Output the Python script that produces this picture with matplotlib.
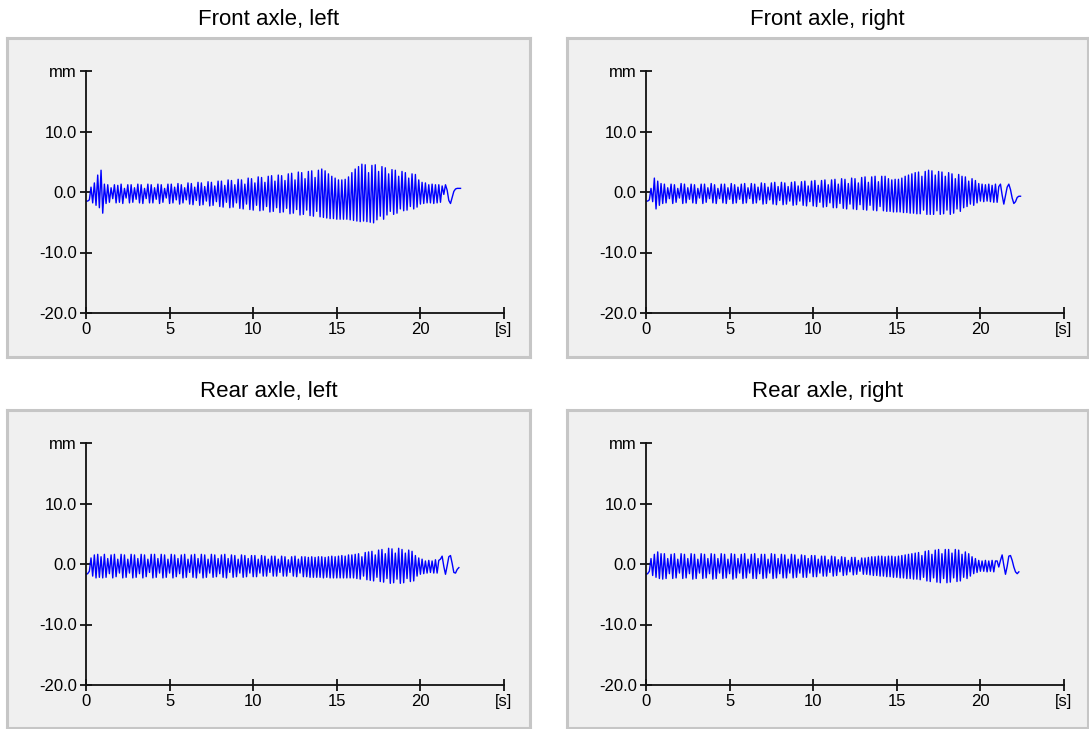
import numpy as np
import matplotlib
matplotlib.use("Agg")
import matplotlib.pyplot as plt

plt.rcParams["font.family"] = ["Liberation Sans", "DejaVu Sans"]

dt = 0.1
fl_mm = [
    -1.5, -1.5, -1.3, 0.8, -1.8, 1.5, -2.2, 2.8, -2.6, 3.6,
    -3.5, 1.3, -1.9, 1.2, -1.7, 0.7, -1.1, 1.2, -1.8, 1.1,
    -1.7, 1.3, -1.9, 0.6, -1.0, 1.2, -1.8, 1.2, -1.7, 0.7,
    -1.2, 1.3, -1.8, 1.2, -1.9, 0.6, -1.1, 1.3, -1.8, 1.2,
    -1.8, 0.7, -1.2, 1.3, -1.9, 1.2, -1.7, 0.6, -1.0, 1.3,
    -1.9, 1.3, -1.8, 0.8, -1.3, 1.4, -2.0, 1.2, -1.8, 0.7,
    -1.3, 1.5, -2.0, 1.4, -2.1, 0.8, -1.4, 1.6, -2.2, 1.5,
    -2.1, 0.9, -1.5, 1.7, -2.3, 1.6, -2.2, 1.0, -1.6, 1.8,
    -2.4, 1.8, -2.5, 1.1, -1.7, 2.0, -2.6, 1.9, -2.5, 1.2,
    -1.8, 2.1, -2.7, 2.0, -2.8, 1.3, -2.0, 2.3, -2.9, 2.2,
    -3.0, 1.5, -2.2, 2.5, -3.1, 2.4, -3.0, 1.6, -2.4, 2.6,
    -3.3, 2.7, -3.2, 1.8, -2.6, 2.8, -3.4, 2.7, -3.3, 1.9,
    -2.7, 3.0, -3.6, 3.1, -3.5, 2.0, -2.9, 3.3, -3.8, 3.2,
    -3.7, 2.2, -3.0, 3.4, -3.9, 3.5, -4.0, 2.4, -3.2, 3.6,
    -4.1, 3.8, -4.2, 3.5, -4.3, 3.0, -4.4, 2.6, -4.4, 2.3,
    -4.5, 2.0, -4.5, 2.0, -4.5, 2.1, -4.5, 2.5, -4.6, 3.2,
    -4.7, 3.8, -4.8, 4.2, -4.9, 4.6, -4.8, 4.5, -4.9, 3.2,
    -5.0, 4.4, -5.1, 4.5, -4.6, 3.4, -4.0, 4.2, -4.5, 4.0,
    -3.8, 3.0, -3.2, 3.7, -3.7, 3.6, -3.5, 2.6, -2.8, 3.4,
    -3.1, 3.2, -3.0, 2.3, -2.4, 3.0, -2.8, 2.9, -2.5, 2.0,
    -2.0, 1.6, -1.9, 1.5, -1.8, 1.2, -1.8, 1.3, -1.9, 1.2,
    -1.8, 1.2, -1.7, 1.0, -0.4, 1.2, 0.3, -1.4, -1.9, -0.9,
    0.1, 0.5, 0.6, 0.6, 0.6,
]
fr_mm = [
    -1.5, -1.5, -1.3, 0.6, -1.6, 2.3, -2.8, 1.8, -2.2, 1.4,
    -1.9, 1.3, -1.8, 0.7, -1.1, 1.3, -1.9, 1.2, -1.7, 0.6,
    -1.0, 1.4, -1.9, 1.3, -1.8, 0.7, -1.2, 1.3, -1.8, 1.2,
    -1.9, 0.6, -1.0, 1.3, -1.9, 1.3, -1.7, 0.7, -1.1, 1.4,
    -1.8, 1.2, -1.9, 0.6, -1.1, 1.3, -1.8, 1.3, -1.9, 0.7,
    -1.2, 1.4, -1.9, 1.2, -1.8, 0.8, -1.2, 1.3, -1.9, 1.4,
    -1.8, 0.7, -1.1, 1.4, -1.9, 1.3, -1.8, 0.8, -1.3, 1.5,
    -2.0, 1.4, -1.9, 0.8, -1.3, 1.5, -2.0, 1.6, -2.1, 0.9,
    -1.4, 1.6, -2.1, 1.5, -2.0, 0.9, -1.5, 1.6, -2.2, 1.7,
    -2.1, 1.0, -1.5, 1.7, -2.2, 1.8, -2.3, 1.0, -1.6, 1.8,
    -2.3, 1.9, -2.4, 1.1, -1.7, 1.9, -2.5, 2.0, -2.4, 1.2,
    -1.8, 2.0, -2.6, 2.1, -2.6, 1.3, -1.9, 2.2, -2.7, 2.1,
    -2.8, 1.4, -2.0, 2.3, -2.8, 2.2, -2.9, 1.5, -2.1, 2.4,
    -2.9, 2.5, -3.0, 1.6, -2.2, 2.5, -3.0, 2.6, -3.1, 1.7,
    -2.4, 2.6, -3.1, 2.6, -3.2, 2.2, -3.2, 2.0, -3.3, 2.1,
    -3.3, 2.1, -3.3, 2.3, -3.4, 2.6, -3.4, 2.8, -3.5, 3.0,
    -3.5, 3.2, -3.6, 3.3, -3.6, 2.6, -3.0, 3.4, -3.7, 3.6,
    -3.7, 3.5, -3.7, 2.8, -3.1, 3.4, -3.7, 3.3, -3.6, 2.6,
    -3.0, 3.2, -3.7, 3.0, -3.5, 2.2, -2.8, 2.9, -3.2, 2.6,
    -2.6, 2.5, -2.4, 1.8, -2.0, 2.2, -2.2, 1.9, -1.8, 1.4,
    -1.5, 1.3, -1.6, 1.2, -1.5, 1.3, -1.6, 1.1, -1.7, 1.3,
    -1.7, 0.9, 1.3, -0.5, -2.0, -0.6, 0.8, 1.3, 0.4, -1.0,
    -1.9, -1.6, -0.9, -0.7, -0.7,
]
rl_mm = [
    -1.7, -1.6, -1.2, 1.0, -2.0, 1.5, -2.3, 1.6, -2.2, 1.2,
    -2.3, 1.6, -2.2, 0.9, -1.6, 1.5, -2.3, 1.6, -2.1, 0.8,
    -1.5, 1.6, -2.3, 1.5, -2.2, 0.8, -1.5, 1.6, -2.3, 1.5,
    -2.2, 0.9, -1.6, 1.6, -2.3, 1.5, -2.1, 0.8, -1.4, 1.6,
    -2.3, 1.6, -2.2, 0.9, -1.5, 1.6, -2.3, 1.5, -2.2, 0.8,
    -1.5, 1.6, -2.3, 1.5, -2.1, 0.9, -1.6, 1.5, -2.3, 1.6,
    -2.2, 0.8, -1.4, 1.5, -2.2, 1.6, -2.3, 0.9, -1.5, 1.6,
    -2.3, 1.5, -2.2, 0.8, -1.5, 1.6, -2.2, 1.5, -2.1, 0.9,
    -1.6, 1.5, -2.2, 1.6, -2.3, 0.9, -1.4, 1.5, -2.2, 1.4,
    -2.1, 0.8, -1.5, 1.5, -2.2, 1.4, -2.1, 0.9, -1.5, 1.4,
    -2.1, 1.4, -2.1, 0.8, -1.5, 1.4, -2.0, 1.3, -2.0, 0.8,
    -1.4, 1.3, -2.0, 1.3, -2.0, 0.8, -1.4, 1.3, -2.0, 1.2,
    -2.0, 0.7, -1.4, 1.2, -2.0, 1.3, -2.1, 0.8, -1.5, 1.2,
    -2.1, 1.2, -2.1, 1.1, -2.2, 1.2, -2.2, 1.1, -2.2, 1.2,
    -2.2, 1.2, -2.3, 1.1, -2.2, 1.2, -2.3, 1.3, -2.3, 1.2,
    -2.3, 1.3, -2.3, 1.4, -2.3, 1.3, -2.3, 1.5, -2.3, 1.5,
    -2.3, 1.6, -2.4, 1.7, -2.5, 1.2, -2.0, 1.9, -2.6, 2.0,
    -2.7, 2.1, -2.8, 1.5, -2.2, 2.3, -2.9, 2.4, -3.0, 1.7,
    -2.4, 2.6, -3.2, 2.5, -3.1, 1.8, -2.5, 2.6, -3.2, 2.4,
    -3.1, 1.8, -2.4, 2.3, -2.9, 2.1, -2.8, 1.4, -2.0, 1.0,
    -1.7, 0.8, -1.6, 0.5, -1.5, 0.6, -1.4, 0.5, -1.5, 0.7,
    -1.5, 0.6, 0.8, 1.3, -0.4, -1.7, -0.3, 1.2, 1.4, 0.1,
    -1.4, -1.5, -0.9, -0.6,
]
rr_mm = [
    -1.7, -1.6, -1.2, 0.9, -1.9, 1.6, -2.2, 2.0, -2.4, 1.7,
    -2.5, 1.7, -2.4, 0.9, -1.6, 1.6, -2.4, 1.7, -2.3, 0.8,
    -1.5, 1.7, -2.4, 1.6, -2.3, 0.9, -1.6, 1.7, -2.5, 1.6,
    -2.4, 0.8, -1.5, 1.7, -2.4, 1.6, -2.3, 0.9, -1.6, 1.7,
    -2.5, 1.6, -2.4, 0.9, -1.5, 1.7, -2.4, 1.6, -2.3, 0.8,
    -1.6, 1.7, -2.5, 1.6, -2.3, 0.9, -1.5, 1.6, -2.4, 1.7,
    -2.3, 0.8, -1.5, 1.6, -2.4, 1.7, -2.4, 0.9, -1.6, 1.6,
    -2.4, 1.6, -2.3, 0.8, -1.5, 1.7, -2.4, 1.6, -2.3, 0.9,
    -1.6, 1.6, -2.3, 1.5, -2.3, 0.8, -1.5, 1.6, -2.3, 1.5,
    -2.2, 0.8, -1.5, 1.5, -2.2, 1.4, -2.2, 0.9, -1.5, 1.4,
    -2.1, 1.4, -2.1, 0.8, -1.5, 1.3, -2.0, 1.3, -2.0, 0.7,
    -1.4, 1.3, -2.0, 1.2, -1.9, 0.7, -1.3, 1.2, -1.9, 1.1,
    -1.8, 0.6, -1.3, 1.1, -1.8, 1.1, -1.7, 0.6, -1.2, 1.0,
    -1.7, 1.0, -1.7, 1.1, -1.8, 1.2, -1.9, 1.2, -1.9, 1.3,
    -2.0, 1.3, -2.0, 1.2, -2.1, 1.3, -2.1, 1.3, -2.2, 1.2,
    -2.2, 1.3, -2.3, 1.4, -2.3, 1.5, -2.4, 1.6, -2.4, 1.7,
    -2.5, 1.8, -2.5, 1.9, -2.6, 1.4, -2.2, 2.1, -2.8, 2.2,
    -2.9, 1.6, -2.3, 2.3, -3.0, 2.4, -3.1, 1.7, -2.4, 2.4,
    -3.1, 2.4, -3.0, 1.8, -2.3, 2.4, -2.9, 2.3, -2.8, 1.6,
    -2.2, 2.0, -2.4, 1.7, -2.0, 1.2, -1.6, 0.9, -1.4, 0.6,
    -1.2, 0.5, -1.2, 0.6, -1.3, 0.5, -1.2, 0.6, -1.3, 0.5,
    0.5, -0.5, 0.6, 1.5, -0.2, -1.7, -0.4, 1.3, 1.4, 0.6,
    -0.5, -1.3, -1.6, -1.3,
]

titles = ["Front axle, left", "Front axle, right", "Rear axle, left", "Rear axle, right"]
series = [fl_mm, fr_mm, rl_mm, rr_mm]
y_ticks = [-20, -10, 0, 10, 20]
y_labels = ["-20.0", "-10.0", "0.0", "10.0", "mm"]
x_ticks = [0, 5, 10, 15, 20, 25]
x_labels = ["0", "5", "10", "15", "20", "[s]"]

W, H = 1089, 729
fig = plt.figure(figsize=(W / 100, H / 100), dpi=100)


def rect(x0, y0, x1, y1):
    # pixel box (top-left origin) -> figure fraction
    return [x0 / W, 1 - y1 / H, (x1 - x0) / W, (y1 - y0) / H]


boxes = [(7, 38, 530, 357), (567, 38, 1088, 357), (7, 410, 530, 728), (567, 410, 1088, 728)]
plots = [(86, 71, 504, 313), (646, 71, 1064, 313), (86, 443, 504, 685), (646, 443, 1064, 685)]
title_y = [20, 20, 392, 392]

for i in range(4):
    bx = fig.add_axes(rect(*boxes[i]))
    bx.set_facecolor("#f0f0f0")
    bx.set_xticks([])
    bx.set_yticks([])
    for s in bx.spines.values():
        s.set_color("#c6c6c6")
        s.set_linewidth(2.2)

    cx = (boxes[i][0] + boxes[i][2]) / 2
    fig.text(cx / W, 1 - title_y[i] / H, titles[i], ha="center", va="center", fontsize=16)

    ax = fig.add_axes(rect(*plots[i]))
    ax.patch.set_visible(False)
    y = np.array(series[i])
    t = np.arange(len(y)) * dt
    ax.plot(t, y, color="#0000ff", linewidth=1.0)

    ax.set_xlim(0, 25)
    ax.set_ylim(-20, 20)
    ax.spines["top"].set_visible(False)
    ax.spines["right"].set_visible(False)
    for s in ["left", "bottom"]:
        ax.spines[s].set_linewidth(1.3)
        ax.spines[s].set_color("#111111")
    ax.set_yticks(y_ticks)
    ax.set_yticklabels(y_labels)
    ax.set_xticks(x_ticks)
    ax.set_xticklabels(x_labels)
    ax.tick_params(direction="inout", length=8.5, width=1.3, color="#111111",
                   labelsize=12, pad=2.5)

fig.savefig("out.png", dpi=100)
